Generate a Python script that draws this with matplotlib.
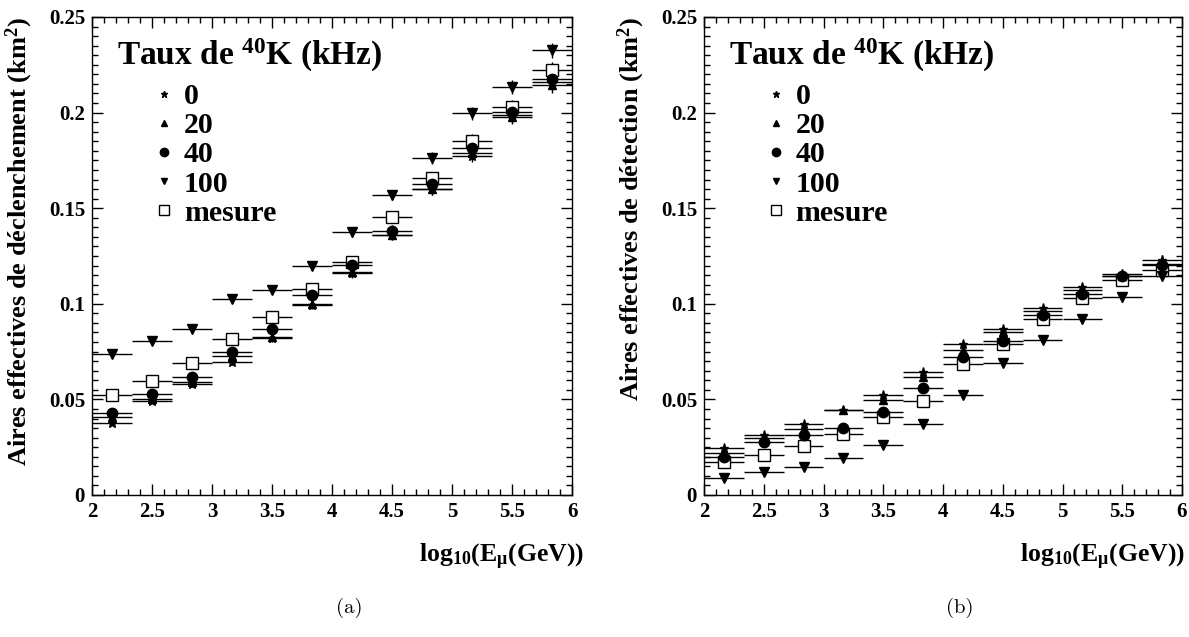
import numpy as np
import matplotlib
matplotlib.use("Agg")
import matplotlib.pyplot as plt
from matplotlib.lines import Line2D
from matplotlib.ticker import MultipleLocator, FuncFormatter

plt.rcParams['font.family'] = ['Liberation Serif', 'DejaVu Serif']
plt.rcParams['font.weight'] = 'bold'
plt.rcParams['mathtext.fontset'] = 'custom'
plt.rcParams['mathtext.rm'] = 'Liberation Serif:bold'
plt.rcParams['mathtext.it'] = 'Liberation Serif:bold'
plt.rcParams['mathtext.bf'] = 'Liberation Serif:bold'
plt.rcParams['mathtext.default'] = 'rm'

# bins in log10(E_mu / GeV)
log_e = [2.1667, 2.5, 2.8333, 3.1667, 3.5, 3.8333, 4.1667, 4.5, 4.8333, 5.1667, 5.5, 5.8333]
half_bin = 1 / 6

# (a) aires effectives de declenchement (km2)
trig_0 = [0.0378, 0.0493, 0.0580, 0.0697, 0.0820, 0.0995, 0.1160, 0.1360, 0.1600, 0.1775, 0.1985, 0.2160]
trig_20 = [0.0408, 0.0500, 0.0590, 0.0727, 0.0825, 0.1000, 0.1165, 0.1362, 0.1600, 0.1787, 0.1978, 0.2145]
trig_40 = [0.0430, 0.0530, 0.0619, 0.0750, 0.0867, 0.1046, 0.1203, 0.1382, 0.1627, 0.1813, 0.2005, 0.2177]
trig_100 = [0.0737, 0.0805, 0.0867, 0.1025, 0.1072, 0.1199, 0.1374, 0.1569, 0.1761, 0.1996, 0.2135, 0.2325]
trig_mes = [0.0525, 0.0598, 0.0692, 0.0818, 0.0929, 0.1076, 0.1220, 0.1454, 0.1656, 0.1853, 0.2030, 0.2224]
trig_err = [0.0010, 0.0011, 0.0013, 0.0015, 0.0018, 0.0021, 0.0024, 0.0028, 0.0031, 0.0034, 0.0037, 0.0041]

# (b) aires effectives de detection (km2)
det_0 = [0.0244, 0.0313, 0.0369, 0.0445, 0.0525, 0.0645, 0.0791, 0.0868, 0.0976, 0.1087, 0.1157, 0.1230]
det_20 = [0.0218, 0.0300, 0.0343, 0.0443, 0.0496, 0.0616, 0.0760, 0.0852, 0.0960, 0.1070, 0.1146, 0.1209]
det_40 = [0.0200, 0.0277, 0.0313, 0.0352, 0.0435, 0.0560, 0.0722, 0.0803, 0.0939, 0.1052, 0.1143, 0.1203]
det_100 = [0.0089, 0.0122, 0.0145, 0.0191, 0.0259, 0.0372, 0.0525, 0.0690, 0.0809, 0.0922, 0.1035, 0.1146]
det_mes = [0.0174, 0.0211, 0.0254, 0.0317, 0.0407, 0.0494, 0.0687, 0.0791, 0.0920, 0.1031, 0.1125, 0.1177]
det_err = [0.0008, 0.0009, 0.0010, 0.0011, 0.0013, 0.0015, 0.0017, 0.0019, 0.0021, 0.0023, 0.0025, 0.0027]

labels = ['0', '20', '40', '100', 'mesure']
markers = ['*', '^', 'o', 'v', 's']
msizes = [6.5, 6, 7.5, 6.5, 8]
fills = ['black', 'black', 'black', 'black', 'white']

fig = plt.figure(figsize=(11.89, 6.37), dpi=100)
ax1 = fig.add_axes([92 / 1189, 142 / 637, 480 / 1189, 478 / 637])
ax2 = fig.add_axes([704 / 1189, 142 / 637, 478 / 1189, 478 / 637])

panels = [
    (ax1, [trig_0, trig_20, trig_40, trig_100, trig_mes], trig_err,
     'Aires effectives de déclenchement (km$^{2}$)', '(a)', 1.026),
    (ax2, [det_0, det_20, det_40, det_100, det_mes], det_err,
     'Aires effectives de détection (km$^{2}$)', '(b)', 1.006),
]

for ax, series, err, ylab, cap, xlab_x in panels:
    # draw mesure first so the simulated points sit on top
    for i in [4, 3, 2, 1, 0]:
        ax.errorbar(log_e, series[i], xerr=half_bin, yerr=err, fmt=markers[i],
                    color='black', mfc=fills[i], mec='black', ms=msizes[i],
                    elinewidth=1.0, capsize=0, mew=1.0)
    ax.set_xlim(2, 6)
    ax.set_ylim(0, 0.25)
    ax.xaxis.set_major_locator(MultipleLocator(0.5))
    ax.xaxis.set_minor_locator(MultipleLocator(0.1))
    ax.yaxis.set_major_locator(MultipleLocator(0.05))
    ax.yaxis.set_minor_locator(MultipleLocator(0.005))
    ax.xaxis.set_major_formatter(FuncFormatter(lambda v, p: '%g' % v))
    ax.yaxis.set_major_formatter(FuncFormatter(lambda v, p: '%g' % round(v, 3)))
    ax.tick_params(which='both', direction='in', top=True, right=True, width=1,
                   labelsize=15, pad=5)
    ax.tick_params(which='major', length=8)
    ax.tick_params(which='minor', length=4)
    for s in ax.spines.values():
        s.set_linewidth(1)

    ax.set_ylabel(ylab, fontsize=19, fontweight='bold', loc='top')
    ax.yaxis.set_label_coords(-0.152, 1.0)
    ax.yaxis.label.set_verticalalignment('center')
    ax.set_xlabel('log$_{10}$(E$_{\\mu}$(GeV))', fontsize=18.5, fontweight='bold', loc='right')
    ax.xaxis.set_label_coords(xlab_x, -0.13)
    ax.xaxis.label.set_verticalalignment('center')

    ax.text(0.052, 0.92, 'Taux de $^{40}$K (kHz)', transform=ax.transAxes,
            fontsize=24, fontweight='bold', va='center', ha='left')
    handles = [Line2D([], [], ls='none', marker=markers[i], color='black',
                      mfc=fills[i], mec='black', ms=msizes[i] - 1.5)
               for i in range(5)]
    ax.legend(handles, labels, loc='upper left', bbox_to_anchor=(0.098, 0.887),
              frameon=False, prop=dict(family='Liberation Serif', weight='bold', size=21.5),
              handlelength=0.9, handletextpad=0.2, labelspacing=0.075, borderaxespad=0)

    bb = ax.get_position()
    fig.text(bb.x0 + bb.width * 0.535, 1 - 608 / 637, cap, family='cmr10',
             fontweight='normal', fontsize=15, ha='center', va='center')

fig.savefig('out.png', dpi=100)
